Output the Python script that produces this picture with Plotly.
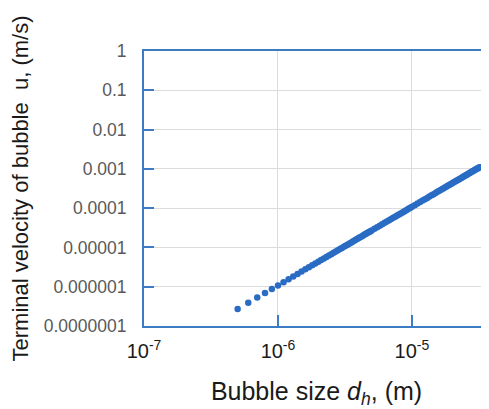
import plotly.graph_objects as go

# Bubble size in micrometres
d_um = [0.5, 0.6, 0.7, 0.8, 0.9, 1.0, 1.1, 1.2, 1.3, 1.4, 1.5, 1.6, 1.7, 1.8, 1.9,
        2.0, 2.1, 2.2, 2.3, 2.4, 2.5, 2.6, 2.7, 2.8, 2.9, 3.0, 3.1, 3.2, 3.3, 3.4,
        3.5, 3.6, 3.7, 3.8, 3.9, 4.0, 4.1, 4.2, 4.3, 4.4, 4.5, 4.6, 4.7, 4.8, 4.9,
        5.0, 5.25, 5.5, 5.75, 6.0, 6.25, 6.5, 6.75, 7.0, 7.25, 7.5, 7.75, 8.0, 8.25,
        8.5, 8.75, 9.0, 9.25, 9.5, 9.75, 10.0, 10.5, 11.0, 11.5, 12.0, 12.5, 13.0,
        13.5, 14.0, 14.5, 15.0, 15.5, 16.0, 16.5, 17.0, 17.5, 18.0, 18.5, 19.0,
        19.5, 20.0, 20.5, 21.0, 21.5, 22.0, 22.5, 23.0, 23.5, 24.0, 24.5, 25.0,
        25.5, 26.0, 26.5, 27.0, 27.5, 28.0, 28.5, 29.0, 29.5, 30.0, 30.5, 31.0,
        31.5, 32.0]

# Terminal velocity in micrometres per second
u_um_s = [0.27, 0.389, 0.529, 0.691, 0.875, 1.08, 1.307, 1.555, 1.825, 2.117, 2.43,
          2.765, 3.121, 3.499, 3.899, 4.32, 4.763, 5.227, 5.713, 6.221, 6.75, 7.301,
          7.873, 8.467, 9.083, 9.72, 10.38, 11.06, 11.76, 12.48, 13.23, 14.0, 14.79,
          15.6, 16.43, 17.28, 18.15, 19.05, 19.97, 20.91, 21.87, 22.85, 23.86, 24.88,
          25.93, 27.0, 29.77, 32.67, 35.71, 38.88, 42.19, 45.63, 49.21, 52.92, 56.77,
          60.75, 64.87, 69.12, 73.51, 78.03, 82.69, 87.48, 92.41, 97.47, 102.7, 108.0,
          119.1, 130.7, 142.8, 155.5, 168.8, 182.5, 196.8, 211.7, 227.1, 243.0, 259.5,
          276.5, 294.0, 312.1, 330.8, 349.9, 369.6, 389.9, 410.7, 432.0, 453.9, 476.3,
          499.2, 522.7, 546.8, 571.3, 596.4, 622.1, 648.3, 675.0, 702.3, 730.1, 758.4,
          787.3, 816.8, 846.7, 877.2, 908.3, 939.9, 972.0, 1004.7, 1037.9, 1071.6,
          1105.9]

x_tickvals = [1e-7, 1e-6, 1e-5]
x_ticktext = ["10<sup>-7</sup>", "10<sup>-6</sup>", "10<sup>-5</sup>"]
y_tickvals = [1, 0.1, 0.01, 0.001, 0.0001, 0.00001, 0.000001, 0.0000001]
y_ticktext = ["1", "0.1", "0.01", "0.001", "0.0001", "0.00001", "0.000001", "0.0000001"]

d_m = [v * 1e-6 for v in d_um]
u_m_s = [v * 1e-6 for v in u_um_s]

AXIS = "#3d7cc4"
GRID = "#dcdcdc"
FONT = "Liberation Sans, Arial, sans-serif"

fig = go.Figure()
fig.add_trace(go.Scatter(
    x=d_m, y=u_m_s, mode="markers",
    marker=dict(color="#2a6cc4", size=6.5, line=dict(width=0)),
    showlegend=False,
))

fig.update_layout(
    width=481, height=401,
    margin=dict(l=136, r=0, t=43, b=83, autoexpand=False),
    paper_bgcolor="white", plot_bgcolor="white",
    font=dict(family=FONT),
)

fig.update_xaxes(
    type="log", range=[-7, -4.425],
    tickvals=x_tickvals, ticktext=x_ticktext,
    ticks="inside", ticklen=11, tickwidth=2, tickcolor=AXIS,
    showline=True, linecolor=AXIS, linewidth=2, mirror=True,
    showgrid=True, gridcolor=GRID, gridwidth=1,
    tickfont=dict(size=20, color="#1a1a1a", family=FONT),
    ticklabelstandoff=6,
    title=dict(text="Bubble size <i>d</i><sub><i>h</i></sub>, (m)",
               font=dict(size=25, color="#1a1a1a", family=FONT), standoff=27),
    zeroline=False, automargin=False,
)

fig.update_yaxes(
    type="log", range=[-7, 0],
    tickvals=y_tickvals, ticktext=y_ticktext,
    ticks="inside", ticklen=10, tickwidth=2, tickcolor=AXIS,
    showline=True, linecolor=AXIS, linewidth=2, mirror=False,
    showgrid=True, gridcolor=GRID, gridwidth=1,
    tickfont=dict(size=17.5, color="#595959", family=FONT),
    ticklabelstandoff=12,
    title=dict(text="Terminal velocity of bubble  u, (m/s)",
               font=dict(size=22, color="#1a1a1a", family=FONT), standoff=17),
    zeroline=False, automargin=False,
)

fig.write_html("out.html")
